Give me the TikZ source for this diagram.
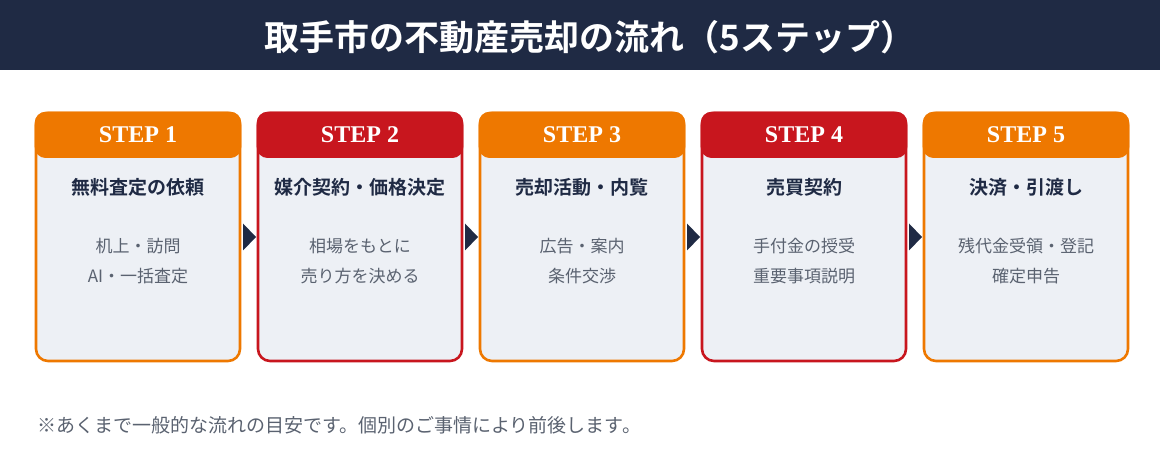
\documentclass[tikz,border=0pt]{standalone}
\usepackage{fontspec}
\setmainfont{Liberation Serif}
\newfontfamily\jpsans{Noto Sans CJK JP}
\newfontfamily\jpbold{Noto Sans CJK JP Bold}
\definecolor{navy}{HTML}{1F2A44}
\definecolor{stepor}{HTML}{EE7800}
\definecolor{stepred}{HTML}{C8161E}
\definecolor{bodyfill}{HTML}{EDF0F5}
\definecolor{desc}{HTML}{5A6270}
\begin{document}
\begin{tikzpicture}[x=1pt,y=-1pt,
  card/.style={draw=#1,line width=2.6pt,fill=bodyfill,rounded corners=12pt},
  head/.style={fill=#1,rounded corners=11pt},
  steplabel/.style={text=white,font=\fontsize{24}{26}\selectfont\bfseries},
  steptitle/.style={text=navy,font=\jpbold\fontsize{19}{22}\selectfont},
  stepdesc/.style={text=desc,font=\jpsans\fontsize{17}{30}\selectfont,align=center},
  tri/.style={fill=navy,draw=none}]
\useasboundingbox (0,0) rectangle (1160,470);
\fill[white] (0,0) rectangle (1160,470);
\fill[navy] (0,0) rectangle (1160,70);
\node[text=white,font=\jpbold\fontsize{35}{38}\selectfont] (title) at (590,37) {取手市の不動産売却の流れ（5ステップ）};
\foreach \i/\c/\t/\d in {
 1/stepor/無料査定の依頼/{机上・訪問\\AI・一括査定},
 2/stepred/媒介契約・価格決定/{相場をもとに\\売り方を決める},
 3/stepor/売却活動・内覧/{広告・案内\\条件交渉},
 4/stepred/売買契約/{手付金の授受\\重要事項説明},
 5/stepor/決済・引渡し/{残代金受領・登記\\確定申告}}{
  \pgfmathsetmacro{\xl}{36+(\i-1)*222}
  \pgfmathsetmacro{\xr}{\xl+204}
  \pgfmathsetmacro{\xc}{\xl+102}
  \draw[card=\c] (\xl,113) rectangle (\xr,361);
  \fill[head=\c] (\xl-1.3,111.7) rectangle (\xr+1.3,158);
  \node[steplabel] (s\i) at (\xc,135) {STEP \i};
  \node[steptitle] (t\i) at (\xc,187) {\t};
  \node[stepdesc] (d\i) at (\xc,261) {\d};
}
\foreach \i in {1,...,4}{
  \pgfmathsetmacro{\xa}{243+(\i-1)*222}
  \fill[tri] (\xa,223.5) -- (\xa+13,237) -- (\xa,250.5) -- cycle;
}
\node[anchor=west,text=desc,font=\jpsans\fontsize{19}{22}\selectfont,inner sep=0pt] (note) at (37,425) {※あくまで一般的な流れの目安です。個別のご事情により前後します。};
\end{tikzpicture}
\end{document}
